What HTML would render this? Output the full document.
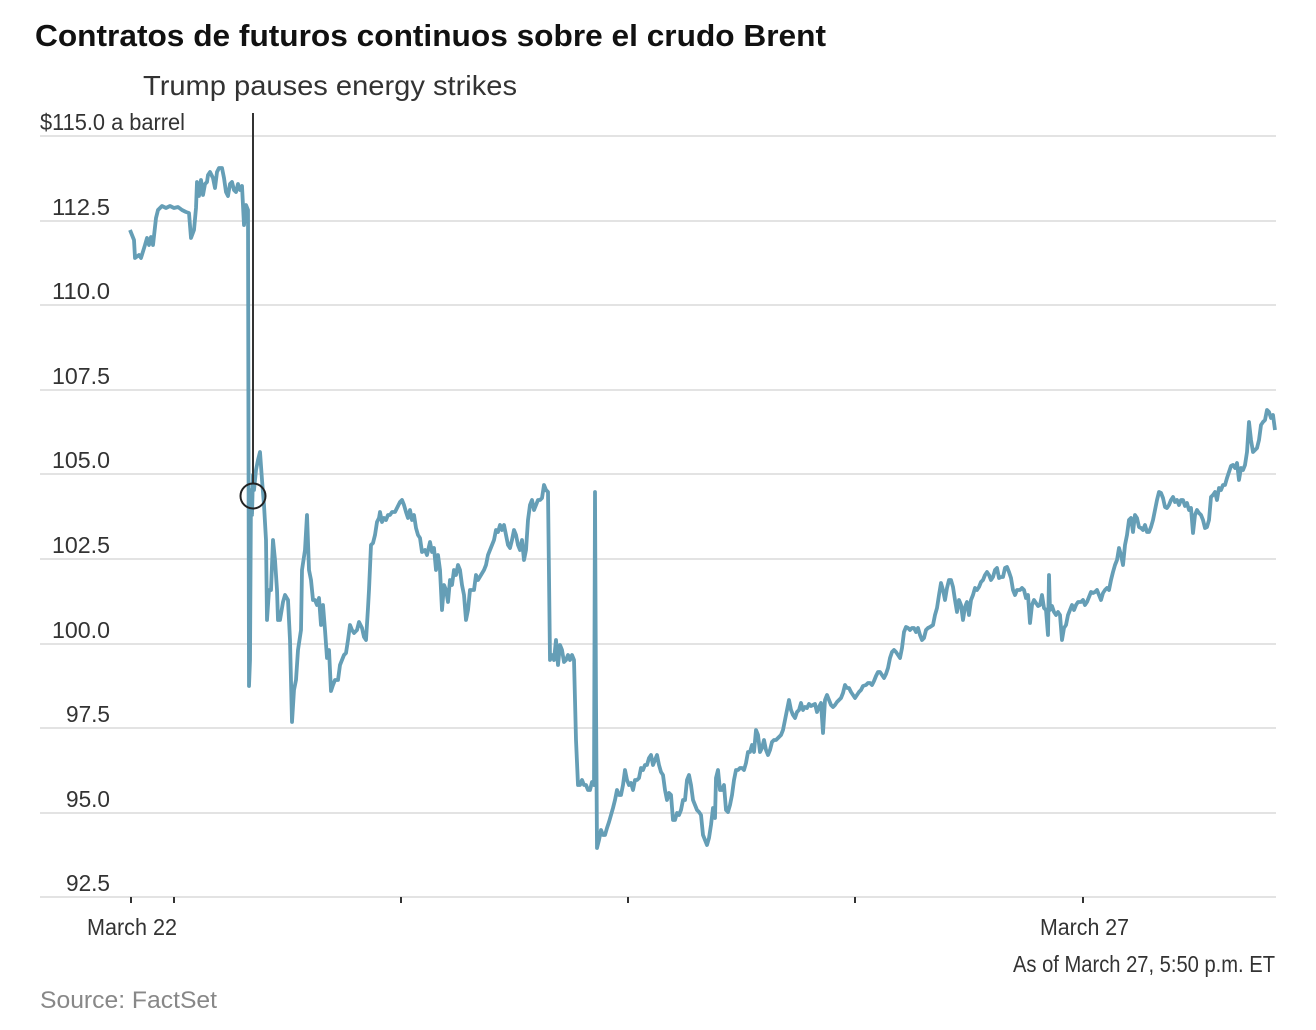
<!DOCTYPE html>
<html><head><meta charset="utf-8"><style>
html,body{margin:0;padding:0;background:#fff;}
svg{display:block;}
text{font-family:"Liberation Sans Narrow","Liberation Sans",sans-serif;}
</style></head><body>
<svg width="1316" height="1030" viewBox="0 0 1316 1030" xmlns="http://www.w3.org/2000/svg">
<text x="35" y="46" font-size="31" font-weight="bold" fill="#111" textLength="791" lengthAdjust="spacingAndGlyphs" style="font-family:'Liberation Sans',sans-serif">Contratos de futuros continuos sobre el crudo Brent</text>
<g stroke="#e3e3e3" stroke-width="2">
<line x1="40" x2="1276" y1="136" y2="136"/>
<line x1="40" x2="1276" y1="221" y2="221"/>
<line x1="40" x2="1276" y1="305" y2="305"/>
<line x1="40" x2="1276" y1="390" y2="390"/>
<line x1="40" x2="1276" y1="474" y2="474"/>
<line x1="40" x2="1276" y1="559" y2="559"/>
<line x1="40" x2="1276" y1="644" y2="644"/>
<line x1="40" x2="1276" y1="728" y2="728"/>
<line x1="40" x2="1276" y1="813" y2="813"/>
<line x1="40" x2="1276" y1="897" y2="897"/>
</g>
<g font-size="23" fill="#333">
<text x="40" y="130" textLength="145" lengthAdjust="spacingAndGlyphs">$115.0 a barrel</text>
<text x="52" y="215" textLength="58" lengthAdjust="spacingAndGlyphs">112.5</text>
<text x="52" y="299" textLength="58" lengthAdjust="spacingAndGlyphs">110.0</text>
<text x="52" y="384" textLength="58" lengthAdjust="spacingAndGlyphs">107.5</text>
<text x="52" y="468" textLength="58" lengthAdjust="spacingAndGlyphs">105.0</text>
<text x="52" y="553" textLength="58" lengthAdjust="spacingAndGlyphs">102.5</text>
<text x="52" y="638" textLength="58" lengthAdjust="spacingAndGlyphs">100.0</text>
<text x="66" y="722" textLength="44" lengthAdjust="spacingAndGlyphs">97.5</text>
<text x="66" y="807" textLength="44" lengthAdjust="spacingAndGlyphs">95.0</text>
<text x="66" y="891" textLength="44" lengthAdjust="spacingAndGlyphs">92.5</text>
<text x="87" y="935" textLength="90" lengthAdjust="spacingAndGlyphs">March 22</text>
<text x="1040" y="935" textLength="89" lengthAdjust="spacingAndGlyphs">March 27</text>
<text x="1013" y="972" textLength="262" lengthAdjust="spacingAndGlyphs">As of March 27, 5:50 p.m. ET</text>
</g>
<text x="40" y="1008" font-size="24" fill="#888" textLength="177" lengthAdjust="spacingAndGlyphs" style="font-family:'Liberation Sans',sans-serif">Source: FactSet</text>
<g stroke="#333" stroke-width="2">
<line x1="131" x2="131" y1="897" y2="903"/>
<line x1="174" x2="174" y1="897" y2="903"/>
<line x1="401" x2="401" y1="897" y2="903"/>
<line x1="628" x2="628" y1="897" y2="903"/>
<line x1="855" x2="855" y1="897" y2="903"/>
<line x1="1083" x2="1083" y1="897" y2="903"/>
</g>
<text x="143" y="95" font-size="28" fill="#333" textLength="374" lengthAdjust="spacingAndGlyphs" style="font-family:'Liberation Sans',sans-serif">Trump pauses energy strikes</text>
<polyline fill="none" stroke="#659eb6" stroke-width="3.8" stroke-linejoin="round" points="130,230 134,240 135,258 139,255 141,258 145,245 147,238 149,245 151,237 153,245 156,218 158,210 162,206 166,208 170,206 174,208 178,207 182,210 186,212 189,213 191,238 194,230 196,208 197,182 199,196 201,180 203,195 205,184 207,182 208,175 210,172 213,178 215,188 217,172 219,168 222,168 224,178 226,192 228,196 230,184 232,182 234,190 236,192 238,184 240,190 242,186 244,225 246,205 248,210 249,686 250,660 251,490 252,515 253,475 254,490 256,470 258,460 260,452 262,480 264,505 266,540 267,620 269,590 271,590 273,540 275,560 277,590 278,620 280,620 283,602 285,595 288,600 290,640 292,722 294,690 296,680 298,650 301,630 302,570 305,550 307,515 309,570 311,580 313,600 315,600 317,605 319,598 321,625 323,605 325,630 327,658 329,650 331,691 333,685 335,680 338,680 340,665 342,660 344,655 346,653 348,640 350,625 352,630 354,633 357,630 359,622 362,628 364,637 366,640 368,608 369,590 371,545 373,543 375,535 377,522 379,518 380,512 382,522 384,518 386,520 388,515 390,515 392,512 395,512 397,508 400,502 402,500 404,505 406,512 408,518 410,510 412,520 414,515 416,528 418,535 420,538 422,552 425,550 427,555 430,542 432,552 434,548 436,570 438,555 440,570 442,610 444,585 446,590 448,602 450,580 452,585 454,570 456,575 458,565 460,570 462,585 464,595 466,620 468,610 470,590 474,590 476,575 478,580 481,575 484,570 486,565 488,555 490,550 492,545 494,540 496,530 498,532 500,525 502,530 504,525 506,535 508,545 510,548 512,540 514,530 516,535 518,545 520,550 522,540 524,560 526,550 528,520 530,505 532,500 534,510 536,505 538,500 540,500 542,498 544,485 546,490 548,492 550,660 552,655 554,660 556,640 558,665 560,645 562,650 564,662 566,660 568,655 570,660 572,655 574,660 576,740 578,785 580,785 582,780 584,785 586,785 588,790 590,790 592,782 594,785 595,492 596,700 597,848 599,840 601,830 603,835 605,835 607,828 609,822 611,815 613,808 615,800 617,790 619,795 621,795 623,785 625,770 627,780 629,785 631,783 633,790 635,780 637,780 639,778 641,768 643,770 645,765 647,765 649,758 651,755 653,765 655,760 657,755 659,765 661,772 663,775 665,790 667,800 669,793 671,795 673,820 675,820 677,813 679,815 681,810 683,800 685,800 687,780 689,775 691,785 693,800 695,805 697,810 699,812 701,815 703,835 705,840 707,845 709,838 711,825 713,808 715,818 716,778 718,770 720,790 722,790 724,785 726,810 728,812 730,805 732,795 734,780 736,770 738,770 740,768 742,768 744,770 746,763 748,752 750,752 752,745 754,752 756,730 758,735 760,752 762,748 764,740 766,750 768,755 770,750 772,742 774,740 776,740 778,738 781,735 783,730 785,720 787,710 789,700 791,710 793,715 795,718 797,712 799,710 801,703 803,710 805,707 807,708 809,704 811,706 813,705 815,704 817,712 819,707 821,703 823,733 825,700 827,695 829,700 831,705 833,707 835,705 837,702 839,700 841,698 843,693 845,685 847,688 849,688 851,692 853,695 855,698 857,695 859,692 861,690 863,686 866,685 868,683 870,683 872,685 874,681 876,676 878,672 880,672 882,675 884,678 886,674 888,668 890,658 892,652 894,650 896,652 898,655 900,658 902,648 904,632 906,627 908,628 910,630 912,628 914,628 916,632 918,628 920,635 922,640 924,638 926,630 928,628 930,627 933,625 935,615 937,608 939,595 941,583 943,590 945,600 947,588 949,580 951,580 953,587 955,600 957,612 959,600 961,605 963,620 965,607 967,602 969,615 971,600 973,595 975,588 977,590 979,587 981,582 983,580 985,575 987,572 989,575 991,580 993,577 995,570 997,568 999,578 1001,577 1003,577 1005,568 1007,567 1009,572 1011,578 1013,590 1015,595 1017,590 1020,590 1022,588 1024,590 1026,598 1028,595 1030,623 1032,605 1034,600 1036,603 1038,606 1040,605 1042,595 1044,608 1046,610 1048,635 1049,575 1050,610 1052,606 1054,612 1056,615 1058,612 1060,615 1062,640 1064,628 1066,625 1068,615 1070,610 1072,605 1074,610 1076,605 1078,602 1081,602 1083,600 1085,605 1087,602 1089,597 1091,592 1093,593 1095,592 1097,590 1099,595 1101,600 1103,593 1105,590 1107,588 1109,590 1111,580 1113,572 1115,565 1117,560 1119,548 1121,555 1123,565 1125,545 1127,535 1129,520 1131,518 1133,532 1135,515 1137,518 1139,527 1141,528 1143,530 1145,525 1147,532 1149,532 1151,527 1153,520 1155,510 1157,500 1159,492 1161,493 1163,498 1165,507 1167,508 1169,505 1171,500 1173,497 1175,502 1177,500 1179,505 1181,500 1183,500 1185,506 1187,503 1189,510 1191,508 1193,533 1195,515 1197,510 1199,513 1201,515 1203,520 1205,528 1207,527 1209,520 1211,497 1213,495 1215,492 1217,500 1219,488 1221,490 1223,485 1225,485 1227,478 1229,472 1231,466 1233,465 1235,468 1237,463 1239,480 1241,468 1243,470 1245,465 1247,452 1249,422 1251,440 1253,452 1255,450 1257,448 1259,440 1261,425 1263,422 1265,420 1267,410 1269,412 1271,418 1273,415 1275,430"/>
<line x1="253" x2="253" y1="113" y2="484" stroke="#333" stroke-width="2"/>
<circle cx="253" cy="496" r="12.5" fill="none" stroke="#222" stroke-width="2"/>
</svg>
</body></html>
